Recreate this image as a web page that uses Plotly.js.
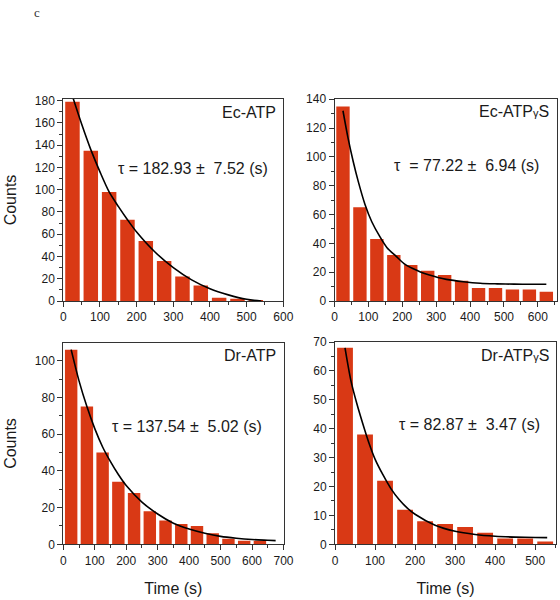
<!DOCTYPE html>
<html>
<head>
<meta charset="utf-8">
<script src="https://cdn.plot.ly/plotly-3.0.1.min.js"></script>
<style>
  html, body { margin: 0; padding: 0; background: #ffffff; }
  #chart { width: 560px; height: 600px; }
</style>
</head>
<body>
<div id="chart"></div>
<script>
// ---- Data ----
const panelNames = ["Ec-ATP", "Ec-ATP<span style=\"font-size:11px\">γ</span>S", "Dr-ATP", "Dr-ATP<span style=\"font-size:11px\">γ</span>S"];
const tauTexts = [
  "τ = 182.93 ±&nbsp;&nbsp;7.52 (s)",
  "τ &nbsp;= 77.22 ±&nbsp;&nbsp;6.94 (s)",
  "τ = 137.54 ±&nbsp;&nbsp;5.02 (s)",
  "τ = 82.87 ±&nbsp;&nbsp;3.47 (s)"
];

// Ec-ATP histogram (bin centres, s) and counts
const ecATP_bins   = [25, 75, 125, 175, 225, 275, 325, 375, 425, 475, 525];
const ecATP_counts = [179, 135, 98, 73, 54, 36, 22, 14, 3, 2, 1];
const ecATP_fitT   = [25, 50, 75, 100, 125, 150, 175, 200, 250, 300, 350, 400, 450, 500, 540];
const ecATP_fitV   = [184, 159, 136, 116, 98, 85, 73, 62, 44, 30, 19, 11, 5.5, 1.5, 0];

// Ec-ATPγS
const ecATPgS_bins   = [25, 75, 125, 175, 225, 275, 325, 375, 425, 475, 525, 575, 625];
const ecATPgS_counts = [135, 65, 43, 32, 25, 21, 18, 14, 9, 9, 8, 8, 6.5];
const ecATPgS_fitT   = [25, 40, 55, 70, 90, 110, 133, 155, 182, 205, 231, 255, 280, 305, 330, 380, 430, 480, 530, 580, 625];
const ecATPgS_fitV   = [132, 113, 97, 83, 67, 55, 45, 37, 31, 26, 22.5, 20, 18, 16.3, 15, 13.4, 12.3, 11.9, 11.7, 11.6, 11.6];

// Dr-ATP
const drATP_bins   = [25, 75, 125, 175, 225, 275, 325, 375, 425, 475, 525, 575, 625];
const drATP_counts = [106, 75, 50, 34, 28, 18, 13, 11, 10, 6, 3, 2, 2];
const drATP_fitT   = [25, 50, 75, 100, 125, 150, 175, 200, 250, 300, 350, 400, 450, 500, 550, 600, 650, 675];
const drATP_fitV   = [106, 89, 75, 63, 53, 45, 38, 32, 23, 16.5, 11.5, 8.3, 6, 4.3, 3.3, 2.6, 2.2, 2.0];

// Dr-ATPγS
const drATPgS_bins   = [25, 75, 125, 175, 225, 275, 325, 375, 425, 475, 525];
const drATPgS_counts = [68, 38, 22, 12, 8, 7, 6, 4, 2, 2, 1];
const drATPgS_fitT   = [25, 40, 55, 70, 85, 100, 120, 140, 160, 180, 200, 250, 300, 350, 400, 450, 500, 530];
const drATPgS_fitV   = [68, 56.5, 48.5, 41.5, 35, 29.5, 24, 19.2, 15.5, 12.6, 10.4, 6.6, 4.5, 3.4, 2.8, 2.5, 2.35, 2.3];

// ---- Styling ----
const BAR_COLOR = "#d93915";
const FONT = "Liberation Sans, Arial, sans-serif";
const W = 560, H = 600;

const panels = [
  {bins: ecATP_bins, counts: ecATP_counts, fitT: ecATP_fitT, fitV: ecATP_fitV,
   px: [63.3, 283.3], py: [99.0, 301.0], xr: [0, 600], yr: [0, 181.5], ydt: 20, ymin: 10,
   nameXY: [277, 112.3], tauXY: [117, 168.3]},
  {bins: ecATPgS_bins, counts: ecATPgS_counts, fitT: ecATPgS_fitT, fitV: ecATPgS_fitV,
   px: [334.5, 556.5], py: [98.8, 301.0], xr: [0, 655], yr: [0, 140.3], ydt: 20, ymin: 10,
   nameXY: [549.5, 111.7], tauXY: [392.5, 166]},
  {bins: drATP_bins, counts: drATP_counts, fitT: drATP_fitT, fitV: drATP_fitV,
   px: [63.3, 283.5], py: [342.7, 544.3], xr: [0, 700], yr: [0, 109.8], ydt: 20, ymin: 10,
   nameXY: [277, 355], tauXY: [110.7, 426.7]},
  {bins: drATPgS_bins, counts: drATPgS_counts, fitT: drATPgS_fitT, fitV: drATPgS_fitV,
   px: [335, 556], py: [341.5, 544.3], xr: [0, 552], yr: [0, 70.2], ydt: 10, ymin: 5,
   nameXY: [549.5, 355], tauXY: [397.5, 424]}
];

const data = [];
const layout = {
  width: W, height: H,
  margin: {l: 0, r: 0, t: 0, b: 0},
  paper_bgcolor: "#ffffff",
  plot_bgcolor: "#ffffff",
  showlegend: false,
  bargap: 0.21,
  font: {family: FONT, color: "#1a1a1a", size: 12},
  annotations: []
};

panels.forEach((p, i) => {
  const n = i === 0 ? "" : String(i + 1);
  const xa = "x" + n, ya = "y" + n;
  data.push({
    type: "bar", x: p.bins, y: p.counts, xaxis: xa, yaxis: ya,
    marker: {color: BAR_COLOR, line: {width: 0}}, hoverinfo: "x+y"
  });
  data.push({
    type: "scatter", mode: "lines", x: p.fitT, y: p.fitV, xaxis: xa, yaxis: ya,
    line: {color: "#000000", width: 1.6, shape: "spline", smoothing: 0.8}
  });
  const isBottom = i >= 2, isLeft = (i % 2) === 0;
  layout["xaxis" + n] = {
    domain: [p.px[0] / W, p.px[1] / W],
    anchor: ya, range: p.xr, autorange: false,
    showline: true, linecolor: "#333333", linewidth: 1, mirror: true,
    showgrid: false, zeroline: false,
    ticks: "outside", ticklen: 5, tickwidth: 1, tickcolor: "#333333",
    dtick: 100, tick0: 0,
    minor: {dtick: 50, ticklen: 3, tickwidth: 1, tickcolor: "#333333", ticks: "outside", showgrid: false},
    tickfont: {family: FONT, size: 12, color: "#1a1a1a"},
    title: isBottom ? {text: "Time (s)", font: {family: FONT, size: 16, color: "#1a1a1a"}, standoff: 16} : {text: ""},
    automargin: false, fixedrange: true
  };
  layout["yaxis" + n] = {
    domain: [1 - p.py[1] / H, 1 - p.py[0] / H],
    anchor: xa, range: p.yr, autorange: false,
    showline: true, linecolor: "#333333", linewidth: 1, mirror: true,
    showgrid: false, zeroline: false,
    ticks: "outside", ticklen: 5, tickwidth: 1, tickcolor: "#333333",
    dtick: p.ydt, tick0: 0,
    minor: {dtick: p.ymin, ticklen: 3, tickwidth: 1, tickcolor: "#333333", ticks: "outside", showgrid: false},
    tickfont: {family: FONT, size: 12, color: "#1a1a1a"},
    title: isLeft ? {text: "Counts", font: {family: FONT, size: 16, color: "#1a1a1a"}, standoff: 14} : {text: ""},
    automargin: false, fixedrange: true
  };
  layout.annotations.push({
    xref: "paper", yref: "paper", x: p.nameXY[0] / W, y: 1 - p.nameXY[1] / H,
    xanchor: "right", yanchor: "middle", text: panelNames[i], showarrow: false,
    font: {family: FONT, size: 16, color: "#1a1a1a"}, borderpad: 0
  });
  layout.annotations.push({
    xref: "paper", yref: "paper", x: p.tauXY[0] / W, y: 1 - p.tauXY[1] / H,
    xanchor: "left", yanchor: "middle", text: tauTexts[i], showarrow: false,
    font: {family: FONT, size: 16, color: "#1a1a1a"}, borderpad: 0
  });
});

layout.annotations.push({
  xref: "paper", yref: "paper", x: 37 / W, y: 1 - 12 / H,
  xanchor: "center", yanchor: "middle", text: "c", showarrow: false,
  font: {family: "Liberation Serif, DejaVu Serif, serif", size: 13, color: "#333333"}
});

Plotly.newPlot("chart", data, layout, {displayModeBar: false, staticPlot: true});
</script>
</body>
</html>
